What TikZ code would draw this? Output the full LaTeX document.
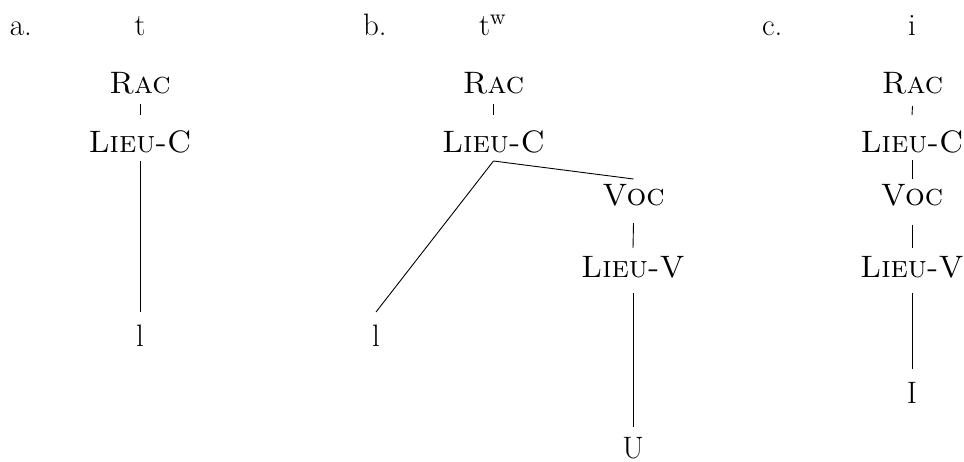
\documentclass[tikz,border=0pt]{standalone}
\usetikzlibrary{calc}
\begin{document}
\begin{tikzpicture}[x=0.5pt,y=-0.5pt,
  every node/.style={inner sep=0pt,outer sep=0pt,anchor=base,font=\fontsize{15.5pt}{18pt}\selectfont},
  lbl/.style={anchor=base west},
  edge/.style={line width=0.45pt}]
\useasboundingbox (0,0) rectangle (964,461);
% panel a
\node[lbl] (la0) at (10,35) {a.};
\node (ta) at (140,35) {t};
\node (raca) at (140,93) {\textsc{Rac}};
\node (lca) at (140,152) {\textsc{Lieu-C}};
\node (la) at (140,346) {l};
\draw[edge] ($(raca.base)+(0,11)$) -- ($(lca.base)+(0,-37)$);
\draw[edge] ($(lca.base)+(0,9)$) -- ($(la.base)+(0,-34)$);
% panel b
\node[lbl] (lb0) at (363,35) {b.};
\node[lbl] (tb) at (479,35) {t$^{\mathrm{w}}$};
\node (racb) at (493.5,93) {\textsc{Rac}};
\node (lcb) at (493.5,152) {\textsc{Lieu-C}};
\node (lb) at (376,346) {l};
\node (vocb) at (633.5,205) {\textsc{Voc}};
\node (lvb) at (633,277) {\textsc{Lieu-V}};
\node (ub) at (633,458.5) {U};
\draw[edge] ($(racb.base)+(0,11)$) -- ($(lcb.base)+(0,-37)$);
\coordinate (jb) at ($(lcb.base)+(0,9)$);
\draw[edge] (jb) -- ($(lb.base)+(0,-34)$);
\draw[edge] (jb) -- ($(vocb.base)+(0,-26)$);
\draw[edge] ($(vocb.base)+(0,18)$) -- ($(lvb.base)+(0,-29)$);
\draw[edge] ($(lvb.base)+(0,16)$) -- ($(ub.base)+(0,-31.5)$);
% panel c
\node[lbl] (lc0) at (762,35) {c.};
\node (tc) at (912,35) {i};
\node (racc) at (912.5,93) {\textsc{Rac}};
\node (lcc) at (912,152) {\textsc{Lieu-C}};
\node (vocc) at (912,205) {\textsc{Voc}};
\node (lvc) at (912,277) {\textsc{Lieu-V}};
\node (ic) at (912,403) {I};
\draw[edge] ($(racc.base)+(0,13)$) -- ($(lcc.base)+(0,-37)$);
\draw[edge] ($(lcc.base)+(0,8)$) -- ($(vocc.base)+(0,-26)$);
\draw[edge] ($(vocc.base)+(0,20)$) -- ($(lvc.base)+(0,-29)$);
\draw[edge] ($(lvc.base)+(0,16)$) -- ($(ic.base)+(0,-34)$);
\end{tikzpicture}
\end{document}
